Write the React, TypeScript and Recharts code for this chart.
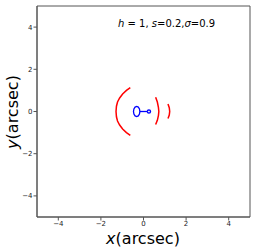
import { ScatterChart, Scatter, XAxis, YAxis, ReferenceArea, Label } from 'recharts'

// lens critical curves (red) and caustics (blue), arcsec
const leftArc = [
  { x: -0.62, y: 1.13 }, { x: -0.80, y: 1.0 }, { x: -0.98, y: 0.83 }, { x: -1.12, y: 0.64 },
  { x: -1.22, y: 0.45 }, { x: -1.27, y: 0.25 }, { x: -1.29, y: 0 }, { x: -1.27, y: -0.25 },
  { x: -1.22, y: -0.45 }, { x: -1.12, y: -0.64 }, { x: -0.98, y: -0.83 }, { x: -0.80, y: -1.0 },
  { x: -0.62, y: -1.13 },
]
const midArc = [
  { x: 0.57, y: 0.68 }, { x: 0.65, y: 0.45 }, { x: 0.70, y: 0.2 }, { x: 0.72, y: 0 },
  { x: 0.70, y: -0.2 }, { x: 0.65, y: -0.42 }, { x: 0.57, y: -0.62 },
]
const rightArc = [
  { x: 1.15, y: 0.36 }, { x: 1.21, y: 0.18 }, { x: 1.23, y: 0 }, { x: 1.21, y: -0.17 }, { x: 1.15, y: -0.33 },
]
const blueLoop = [
  { x: -0.17, y: 0 }, { x: -0.19, y: 0.12 }, { x: -0.245, y: 0.21 }, { x: -0.32, y: 0.24 },
  { x: -0.395, y: 0.21 }, { x: -0.45, y: 0.12 }, { x: -0.47, y: 0 }, { x: -0.45, y: -0.12 },
  { x: -0.395, y: -0.21 }, { x: -0.32, y: -0.24 }, { x: -0.245, y: -0.21 }, { x: -0.19, y: -0.12 },
  { x: -0.17, y: 0 },
]
const blueStem = [{ x: -0.17, y: 0 }, { x: 0.18, y: 0 }]
const blueDot = [
  { x: 0.18, y: 0 }, { x: 0.2, y: 0.055 }, { x: 0.255, y: 0.075 }, { x: 0.31, y: 0.055 }, { x: 0.33, y: 0 },
  { x: 0.31, y: -0.055 }, { x: 0.255, y: -0.075 }, { x: 0.2, y: -0.055 }, { x: 0.18, y: 0 },
]
const ticks = [-4, -2, 0, 2, 4]

const fmt = (v: number) => (v < 0 ? `\u2212${-v}` : `${v}`)
const noDot = () => <g />
const font = 'DejaVu Sans'

export default function App() {
  const red = [leftArc, midArc, rightArc]
  const blue = [blueLoop, blueStem, blueDot]
  return (
    <div style={{ position: 'absolute', left: 0, top: 0, background: '#fff' }}>
      <ScatterChart width={256} height={251} margin={{ top: 6, right: 6, bottom: 0, left: 0 }}>
        <XAxis
          type="number" dataKey="x" domain={[-5, 5]} ticks={ticks} tickFormatter={fmt}
          allowDataOverflow height={34} tickSize={3.5} tickMargin={1}
          tick={{ fontSize: 7, fill: '#222', fontFamily: font }} stroke="#555"
        >
          <Label
            content={() => (
              <text x={143} y={244} textAnchor="middle" fontSize={16} fontFamily={font} fill="#000">
                <tspan fontStyle="italic">x</tspan>(arcsec)
              </text>
            )}
          />
        </XAxis>
        <YAxis
          type="number" dataKey="y" domain={[-5, 5]} ticks={ticks} tickFormatter={fmt}
          allowDataOverflow width={37} tickSize={3.5} tickMargin={1}
          tick={{ fontSize: 7, fill: '#222', fontFamily: font }} stroke="#555"
        >
          <Label
            content={() => (
              <text x={18} y={112} transform="rotate(-90 18 112)" textAnchor="middle" fontSize={16} fontFamily={font} fill="#000">
                <tspan fontStyle="italic">y</tspan>(arcsec)
              </text>
            )}
          />
        </YAxis>
        <ReferenceArea x1={-5} x2={5} y1={-5} y2={5} fill="none" stroke="#555" strokeWidth={1} ifOverflow="visible">
          <Label
            content={() => (
              <text x={118} y={27} fontSize={10} fontFamily={font} fill="#000">
                <tspan fontStyle="italic">h</tspan> = 1, <tspan fontStyle="italic">s</tspan>=0.2,<tspan fontStyle="italic">σ</tspan>=0.9
              </text>
            )}
          />
        </ReferenceArea>
        {red.map((d, i) => (
          <Scatter key={'r' + i} data={d} line={{ stroke: '#ff0000', strokeWidth: 1.5 }} lineType="joint" shape={noDot} isAnimationActive={false} />
        ))}
        {blue.map((d, i) => (
          <Scatter key={'b' + i} data={d} line={{ stroke: '#0000ff', strokeWidth: 1.3 }} lineType="joint" shape={noDot} isAnimationActive={false} />
        ))}
      </ScatterChart>
    </div>
  )
}
